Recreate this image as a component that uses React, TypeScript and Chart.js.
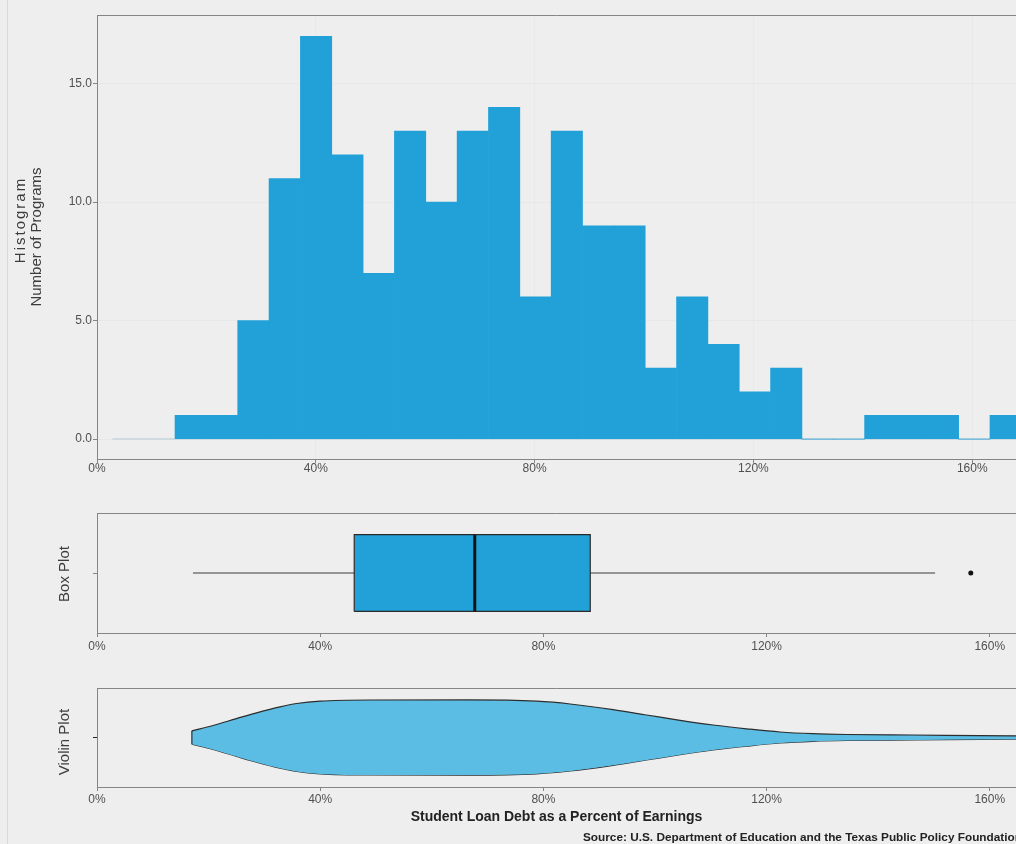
import React, { useEffect, useRef } from 'react';
import { Chart, registerables } from 'chart.js';

Chart.register(...registerables);

// ---------- data ----------
// Histogram: bin centres (% of earnings) and number of programs per bin
const histBinCenters = [17.13, 22.86, 28.59, 34.32, 40.05, 45.78, 51.51, 57.24, 62.97, 68.7, 74.43, 80.16, 85.89, 91.62, 97.35, 103.08, 108.81, 114.54, 120.27, 126.0, 131.73, 137.46, 143.19, 148.92, 154.65, 160.38, 166.11];
const histCounts = [1, 1, 5, 11, 17, 12, 7, 13, 10, 13, 14, 6, 13, 9, 9, 3, 6, 4, 2, 3, 0, 0, 1, 1, 1, 0, 1];
const histBaselineRange = [2.8, 175];
const histYTicks = [0, 5, 10, 15];
const histXRange = [0, 168];
const histYRange = [-0.84, 17.9];

const xTickValues = [0, 40, 80, 120, 160];

// Box plot: lower whisker, Q1, median, Q3, upper whisker
const boxStats = [17.2, 46.1, 67.7, 88.4, 150.2];
const boxOutliers = [156.6, 166.0];
const lowerXRange = [0, 164.7];

// Violin plot: positions (%) and half-width of the density (relative)
const violinX = [17.0, 20.8, 25.0, 28.6, 32.8, 35.8, 40.0, 48.9, 66.8, 78.8, 84.8, 92.5, 98.5, 104.5, 110.4, 116.4, 122.4, 128.3, 134.4, 146.2, 164.2, 170.0];
const violinHalfWidth = [0.135, 0.242, 0.382, 0.499, 0.62, 0.687, 0.735, 0.758, 0.76, 0.733, 0.677, 0.562, 0.455, 0.347, 0.253, 0.176, 0.111, 0.077, 0.061, 0.05, 0.034, 0.032];

// ---------- style ----------
const BLUE = '#21a1d7';
const VIOLIN = '#5bbde3';
const BG = '#eeeeee';
const AXIS = '#858585';
const TICK_COLOR = '#505050';
const FONT = "'Liberation Sans', Arial, Helvetica, sans-serif";
const BOX_HALF = 0.32;

const pct = (v: any) => `${v}%`;

function drawRotated(ctx: CanvasRenderingContext2D, text: string, x: number, y: number, font: string, color: string, spacing = 0) {
  ctx.save();
  ctx.translate(x, y);
  ctx.rotate(-Math.PI / 2);
  ctx.font = font;
  ctx.fillStyle = color;
  ctx.textAlign = 'center';
  ctx.textBaseline = 'middle';
  if (spacing) (ctx as any).letterSpacing = `${spacing}px`;
  ctx.fillText(text, spacing / 2, 0);
  ctx.restore();
}

function topLinePlugin(id: string) {
  return {
    id,
    afterDraw(chart: any) {
      const { ctx, chartArea } = chart;
      ctx.save();
      ctx.strokeStyle = AXIS;
      ctx.lineWidth = 1;
      ctx.beginPath();
      ctx.moveTo(chartArea.left, chartArea.top + 0.5);
      ctx.lineTo(chartArea.right, chartArea.top + 0.5);
      ctx.stroke();
      ctx.restore();
    },
  };
}

function xScale(range: number[], padding: number, height: number, gridColor: string) {
  return {
    type: 'linear',
    min: range[0],
    max: range[1],
    offset: false,
    grid: { offset: false, color: gridColor, tickColor: AXIS, tickLength: 4, drawOnChartArea: true },
    border: { color: AXIS, width: 1 },
    ticks: { font: { family: FONT, size: 12 }, color: TICK_COLOR, padding, callback: pct, maxRotation: 0, autoSkip: false },
    afterBuildTicks: (s: any) => { s.ticks = xTickValues.map((v) => ({ value: v })); },
    afterFit: (s: any) => { s.height = height; },
  };
}

function singleTickY(min: number, max: number, tick: number, tickColor: string) {
  return {
    type: 'linear',
    min,
    max,
    grid: { drawOnChartArea: false, tickColor, tickLength: 4 },
    border: { color: AXIS, width: 1 },
    ticks: { callback: () => '', padding: 0 },
    afterBuildTicks: (s: any) => { s.ticks = [{ value: tick }]; },
    afterFit: (s: any) => { s.width = 97; },
  };
}

export default function App() {
  const histRef = useRef<HTMLCanvasElement>(null);
  const boxRef = useRef<HTMLCanvasElement>(null);
  const violinRef = useRef<HTMLCanvasElement>(null);

  useEffect(() => {
    const common = {
      responsive: false,
      animation: false as const,
      events: [] as any[],
      plugins: { legend: { display: false }, tooltip: { enabled: false } },
    };

    // ---------- Histogram ----------
    const hist = new Chart(histRef.current!, {
      type: 'bar',
      data: {
        datasets: [
          {
            type: 'bar',
            data: histBinCenters.map((x, i) => ({ x, y: histCounts[i] })),
            backgroundColor: BLUE,
            borderWidth: 0,
            barPercentage: 1,
            categoryPercentage: 1,
            order: 1,
          } as any,
          {
            type: 'line',
            data: histBaselineRange.map((x) => ({ x, y: 0 })),
            borderColor: '#c6d4dc',
            borderWidth: 1.5,
            pointRadius: 0,
            order: 2,
          } as any,
        ],
      },
      options: {
        ...common,
        layout: { autoPadding: false, padding: { top: 15, left: 0, right: 0, bottom: 0 } },
        scales: {
          x: xScale(histXRange, -2, 31, 'rgba(0,0,0,0.02)') as any,
          y: {
            type: 'linear',
            min: histYRange[0],
            max: histYRange[1],
            grid: { color: 'rgba(0,0,0,0.025)', tickColor: AXIS, tickLength: 4 },
            border: { color: AXIS, width: 1 },
            ticks: { font: { family: FONT, size: 12 }, color: TICK_COLOR, padding: 1, callback: (v: any) => Number(v).toFixed(1) },
            afterBuildTicks: (s: any) => { s.ticks = histYTicks.map((v) => ({ value: v })); },
            afterFit: (s: any) => { s.width = 97; },
          } as any,
        },
      },
      plugins: [
        topLinePlugin('histTop'),
        {
          id: 'histTitle',
          afterDraw(chart: any) {
            const ctx = chart.ctx;
            drawRotated(ctx, 'Histogram', 21, 221, `15px ${FONT}`, '#3c3c3c', 2);
            drawRotated(ctx, 'Number of Programs', 37, 237, `15px ${FONT}`, '#3c3c3c');
          },
        },
      ],
    } as any);

    // ---------- Box plot ----------
    const [wLo, q1, med, q3, wHi] = boxStats;
    const yLo = 0.5 - BOX_HALF;
    const yHi = 0.5 + BOX_HALF;
    const box = new Chart(boxRef.current!, {
      type: 'line',
      data: {
        datasets: [
          {
            data: [{ x: wLo, y: 0.5 }, { x: q1, y: 0.5 }, { x: med, y: null }, { x: q3, y: 0.5 }, { x: wHi, y: 0.5 }],
            borderColor: '#3a3a3a', borderWidth: 1, pointRadius: 0, spanGaps: false, order: 5,
          },
          {
            data: [{ x: q1, y: yHi }, { x: q3, y: yHi }],
            borderWidth: 0, borderColor: 'rgba(0,0,0,0)', backgroundColor: BLUE,
            fill: { value: yLo }, pointRadius: 0, order: 4,
          },
          {
            data: [{ x: q1, y: yLo }, { x: q3, y: yLo }, { x: q3, y: yHi }, { x: q1, y: yHi }, { x: q1, y: yLo }],
            borderColor: '#2a2a2a', borderWidth: 1.2, pointRadius: 0, fill: false, order: 3,
          },
          {
            data: [{ x: med, y: yLo }, { x: med, y: yHi }],
            borderColor: '#151515', borderWidth: 3, pointRadius: 0, fill: false, order: 2,
          },
          {
            data: boxOutliers.map((x) => ({ x, y: 0.5 })),
            showLine: false, pointRadius: 2.5, pointBackgroundColor: '#111', pointBorderWidth: 0, order: 1,
          },
        ] as any,
      },
      options: {
        ...common,
        layout: { autoPadding: false, padding: { top: 23, left: 0, right: 0, bottom: 0 } },
        scales: {
          x: xScale(lowerXRange, 2, 27, 'rgba(0,0,0,0)') as any,
          y: singleTickY(0, 1, 0.5, '#888') as any,
        },
      },
      plugins: [
        topLinePlugin('boxTop'),
        {
          id: 'boxTitle',
          afterDraw(chart: any) {
            drawRotated(chart.ctx, 'Box Plot', 65, 84, `15px ${FONT}`, '#3c3c3c');
          },
        },
      ],
    } as any);

    // ---------- Violin plot ----------
    const violin = new Chart(violinRef.current!, {
      type: 'line',
      data: {
        datasets: [
          {
            data: violinX.map((x, i) => ({ x, y: violinHalfWidth[i] })),
            borderColor: '#2d2d2d', borderWidth: 1.2, backgroundColor: VIOLIN,
            fill: '+1', pointRadius: 0, cubicInterpolationMode: 'monotone', order: 2,
          },
          {
            data: violinX.map((x, i) => ({ x, y: -violinHalfWidth[i] })),
            borderColor: '#2d2d2d', borderWidth: 1.2, fill: false, pointRadius: 0,
            cubicInterpolationMode: 'monotone', order: 2,
          },
          {
            data: [{ x: violinX[0], y: violinHalfWidth[0] }, { x: violinX[0], y: -violinHalfWidth[0] }],
            borderColor: '#2d2d2d', borderWidth: 1.2, fill: false, pointRadius: 0, order: 1,
          },
        ] as any,
      },
      options: {
        ...common,
        layout: { autoPadding: false, padding: { top: 28, left: 0, right: 0, bottom: 0 } },
        scales: {
          x: xScale(lowerXRange, 1.5, 57, 'rgba(0,0,0,0)') as any,
          y: singleTickY(-1, 1, 0, '#222') as any,
        },
      },
      plugins: [
        topLinePlugin('violinTop'),
        {
          id: 'violinTexts',
          afterDraw(chart: any) {
            const { ctx, chartArea } = chart;
            drawRotated(ctx, 'Violin Plot', 65, 82, `15px ${FONT}`, '#3c3c3c');
            ctx.save();
            ctx.fillStyle = '#222';
            ctx.textBaseline = 'middle';
            ctx.font = `bold 14px ${FONT}`;
            ctx.textAlign = 'center';
            ctx.fillText('Student Loan Debt as a Percent of Earnings', (chartArea.left + chartArea.right) / 2, 157);
            ctx.font = `bold 11.8px ${FONT}`;
            ctx.textAlign = 'left';
            ctx.fillText('Source: U.S. Department of Education and the Texas Public Policy Foundation', 583, 177.5);
            ctx.restore();
          },
        },
      ],
    } as any);

    return () => {
      hist.destroy();
      box.destroy();
      violin.destroy();
    };
  }, []);

  const abs = (top: number, height: number): React.CSSProperties => ({
    position: 'absolute', left: 0, top, width: 1016, height, display: 'block',
  });

  return (
    <div style={{ position: 'absolute', left: 0, top: 0, width: 1016, height: 844, background: BG, overflow: 'hidden' }}>
      <div style={{ position: 'absolute', left: 7, top: 0, width: 1, height: 844, background: '#d9d9d9' }} />
      <canvas ref={histRef} width={1016} height={490} style={abs(0, 490)} />
      <canvas ref={boxRef} width={1016} height={170} style={abs(490, 170)} />
      <canvas ref={violinRef} width={1016} height={184} style={abs(660, 184)} />
    </div>
  );
}
